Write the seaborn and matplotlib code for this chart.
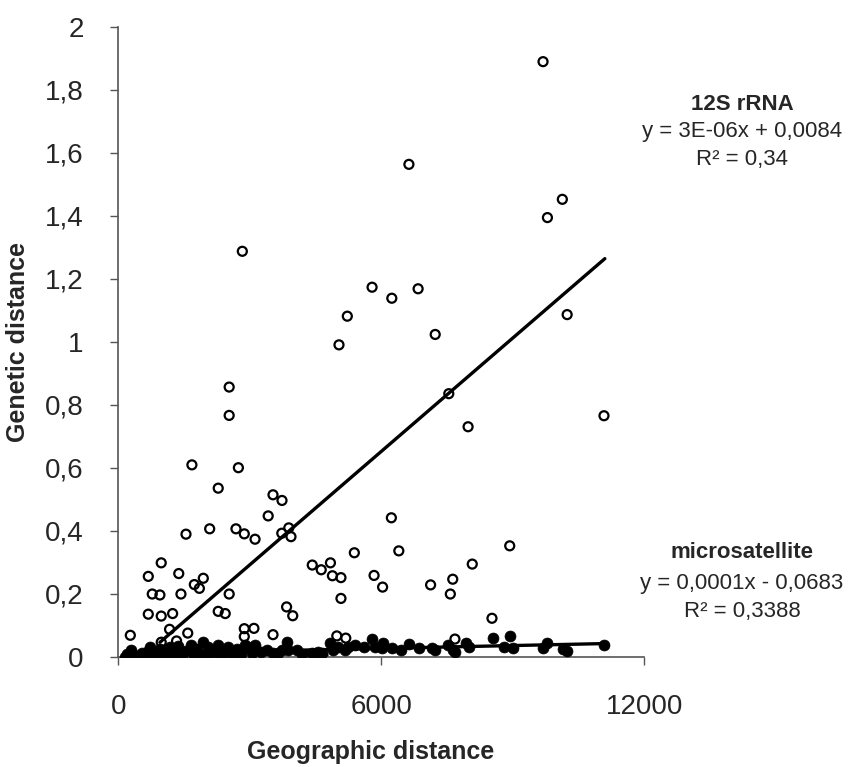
import numpy as np
import pandas as pd
import seaborn as sns
import matplotlib.pyplot as plt

# 12S rRNA pairs (open circles)
rrna_x = [2830, 5790, 6240, 5225, 5035, 9690, 6630, 10130, 9790, 6840, 7230, 10240,
          2530, 2530, 1680, 2740, 2280, 3530, 3735, 3420, 6230, 2085,
          2685, 3890, 3730, 1545, 2875, 3940, 3120, 6400, 5385, 980,
          4840, 4425, 4630, 685, 1380, 4885, 5080, 1940, 5835, 1735,
          1850, 6030, 775, 950, 1430, 2530, 5080, 685, 980, 1240,
          2280, 2440, 3840, 3980, 1170, 2875, 3095, 275, 1585, 3530,
          2875, 4985, 5190, 980, 1330,
          7540, 7980, 11080, 8930, 8075, 7630, 7125, 7575, 8525, 7680,
          2510, 4670]
rrna_y = [1.287, 1.173, 1.138, 1.081, 0.990, 1.889, 1.563, 1.452, 1.394, 1.168, 1.023, 1.086,
          0.856, 0.766, 0.609, 0.600, 0.535, 0.514, 0.496, 0.447, 0.441, 0.406,
          0.406, 0.409, 0.392, 0.389, 0.390, 0.381, 0.373, 0.336, 0.330, 0.298,
          0.298, 0.291, 0.276, 0.255, 0.264, 0.257, 0.251, 0.249, 0.258, 0.229,
          0.217, 0.221, 0.199, 0.196, 0.199, 0.199, 0.185, 0.135, 0.129, 0.137,
          0.144, 0.137, 0.158, 0.130, 0.087, 0.089, 0.090, 0.068, 0.075, 0.070,
          0.064, 0.066, 0.059, 0.046, 0.050,
          0.835, 0.730, 0.765, 0.352, 0.294, 0.246, 0.228, 0.199, 0.122, 0.056,
          0.003, 0.002]

# microsatellite pairs (filled circles)
micro_x = [150, 200, 280, 350, 420, 550, 650, 690, 720, 800, 840, 900, 950, 1000,
           1100, 1180, 1250, 1370, 1450, 1550, 1670, 1720, 1790, 1850, 1940, 2000,
           2050, 2150, 2280, 2350, 2450, 2510, 2600, 2700, 2800, 2890, 2950, 3050,
           3120, 3250, 3390, 3540, 3650, 3730, 3840, 3880, 4070, 4200, 4410, 4550,
           4640, 4830, 4900, 5020, 5170, 5250, 5400, 5600, 5780, 5860, 6010, 6050,
           6240, 6440, 6640, 6850, 7150, 7230, 7530, 7640, 7680, 7930, 7990, 8540,
           8800, 8940, 9010, 9700, 9790, 10150, 10230, 11080]
micro_y = [0.000, 0.010, 0.020, 0.005, 0.000, 0.012, 0.000, 0.020, 0.030, 0.008, 0.015, 0.000, 0.025, 0.010,
           0.000, 0.030, 0.012, 0.035, 0.005, 0.018, 0.036, 0.000, 0.025, 0.010, 0.048, 0.005,
           0.032, 0.015, 0.036, 0.000, 0.020, 0.030, 0.005, 0.025, 0.010, 0.036, 0.032, 0.011,
           0.037, 0.016, 0.020, 0.012, 0.011, 0.020, 0.048, 0.021, 0.021, 0.010, 0.011, 0.015,
           0.011, 0.042, 0.020, 0.032, 0.021, 0.030, 0.037, 0.030, 0.055, 0.032, 0.027, 0.044,
           0.027, 0.021, 0.039, 0.027, 0.029, 0.021, 0.037, 0.021, 0.016, 0.044, 0.032, 0.058,
           0.032, 0.066, 0.027, 0.027, 0.044, 0.023, 0.019, 0.037]

# trend lines as drawn in the chart: slope, intercept and x span
rrna_fit = [1.2e-4, -0.0683]
rrna_span = [950, 11100]
micro_fit = [3e-6, 0.0084]
micro_span = [150, 11080]

xticks = [0, 6000, 12000]
yticks = [0, 0.2, 0.4, 0.6, 0.8, 1.0, 1.2, 1.4, 1.6, 1.8, 2.0]
ytick_labels = ["0", "0,2", "0,4", "0,6", "0,8", "1", "1,2", "1,4", "1,6", "1,8", "2"]

sns.set_style("white")
plt.rcParams['font.family'] = ['Liberation Sans', 'DejaVu Sans']

rrna = pd.DataFrame({"geo": rrna_x, "gen": rrna_y})
micro = pd.DataFrame({"geo": micro_x, "gen": micro_y})

fig = plt.figure(figsize=(8.49, 7.67), dpi=100)
ax = fig.add_axes([0.1393, 0.1438, 0.6196, 0.8214])

sns.scatterplot(data=rrna, x="geo", y="gen", ax=ax, marker="o", s=42,
                facecolors="none", edgecolor="black", linewidth=1.6, zorder=2)
sns.scatterplot(data=micro, x="geo", y="gen", ax=ax, marker="o", s=62,
                color="black", edgecolor="black", linewidth=0.5, zorder=3)

for fit, span in [(rrna_fit, rrna_span), (micro_fit, micro_span)]:
    xs = np.array(span)
    sns.lineplot(x=xs, y=fit[0] * xs + fit[1], ax=ax, color="black", lw=2.4, zorder=4)

ax.set_xlim(0, 12000)
ax.set_ylim(0, 2)
ax.set_xticks(xticks)
ax.set_xticklabels([str(t) for t in xticks])
ax.set_yticks(yticks)
ax.set_yticklabels(ytick_labels)
ax.tick_params(axis="both", direction="out", length=6, width=1, color="#555555",
               labelsize=20, pad=19)
ax.tick_params(axis="x", bottom=True, pad=21)
ax.tick_params(axis="y", left=True)
sns.despine(ax=ax)
for side in ["left", "bottom"]:
    ax.spines[side].set_color("#555555")
    ax.spines[side].set_linewidth(1.2)

ax.set_xlabel("Geographic distance", fontsize=18, fontweight="bold")
ax.set_ylabel("Genetic distance", fontsize=18, fontweight="bold")
ax.xaxis.set_label_coords(0.48, -0.133)
ax.yaxis.set_label_coords(-0.168, 0.5)

# trendline labels (as they appear in the chart)
cx = 742 / 849
fig.text(cx, 1 - 104 / 767, "12S rRNA", ha="center", va="center", fontsize=16, fontweight="bold")
fig.text(cx, 1 - 132 / 767, "y = 3E-06x + 0,0084", ha="center", va="center", fontsize=16)
fig.text(cx, 1 - 160 / 767, "R² = 0,34", ha="center", va="center", fontsize=16)
fig.text(cx, 1 - 553 / 767, "microsatellite", ha="center", va="center", fontsize=16, fontweight="bold")
fig.text(cx, 1 - 583 / 767, "y = 0,0001x - 0,0683", ha="center", va="center", fontsize=16)
fig.text(cx, 1 - 612 / 767, "R² = 0,3388", ha="center", va="center", fontsize=16)

fig.savefig("out.png", dpi=100)
